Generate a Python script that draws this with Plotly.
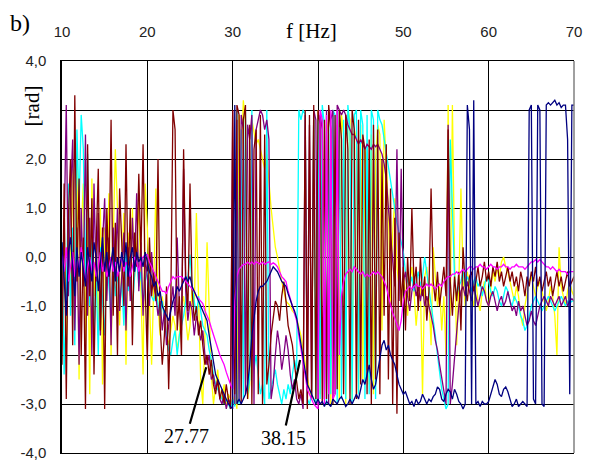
import plotly.graph_objects as go

# frequency grid: 10..70 Hz every 0.25 Hz
freq = [10 + 0.25 * i for i in range(241)]

# phase [rad], rows = one Hz (4 samples), last single value = 70 Hz
navy = [
 0.3,-0.5,-1.2,0.1, 0.4,-0.2,-0.8,0.2, -0.4,0.1,-0.3,-0.6, 0.2,-0.1,-0.5,0.3,
 0.0,-0.7,-0.2,0.4, -0.3,0.1,-0.4,-0.1, 0.2,-0.5,0.0,-0.3, 0.1,-0.2,0.3,-0.4,
 0.0,0.2,-0.3,0.1, -0.1,0.0,-0.2,0.1, -0.1,-0.3,-0.4,-0.6, -0.5,-0.8,-0.7,-1.0,
 -1.1,-1.2,-1.3,-1.1, -0.9,-0.8,-0.6,-0.7, -0.6,-0.5,-0.4,-0.5, -0.4,-0.6,-0.7,-0.8,
 -0.9,-1.0,-1.1,-1.2, -1.3,-1.6,-1.9,-2.2, -2.4,-2.5,-2.6,-2.7, -2.8,-2.9,-3.0,-3.05,
 -3.1,3.1,-3.0,-2.9, -3.0,-2.9,-2.8,-2.6, -2.2,-1.6,-1.2,-0.9, -0.7,-0.6,-0.6,-0.55,
 -0.5,-0.4,-0.3,-0.2, -0.25,-0.3,-0.4,-0.5, -0.55,-0.6,-0.75,-0.9, -1.0,-1.1,-1.25,-1.5,
 -1.8,-2.1,-2.4,-2.6, -2.7,-2.8,-2.9,-3.0, -2.9,-3.0,-2.95,-3.05, -2.95,-3.0,-3.05,-2.9,
 -2.95,-3.0,-2.9,-2.85, -2.95,-3.05,-3.0,-2.9, -3.0,-2.9,-2.8,-2.9, -2.7,-2.5,-2.6,-2.4,
 -2.2,-2.5,-2.7,-2.6, -2.3,-2.0,-1.8,-1.7, -1.9,-1.8,-2.0,-2.1, -2.2,-2.4,-2.6,-2.7,
 -2.8,-2.75,-2.9,-3.0, -2.95,-3.05,-2.9,-3.0, -2.95,-2.8,-2.9,-3.0, -2.9,-2.95,-2.85,-2.8,
 -2.65,-2.7,-2.9,-2.95, -2.8,-2.7,-2.75,-2.9, -2.7,-2.8,-2.95,-3.0, -3.1,-3.0,3.1,2.6,
 -3.0,3.2,-3.0,-2.95, -3.05,-2.95,-3.0,-3.0, -2.95,-2.8,-2.6,-2.5, -2.6,-2.8,-2.85,-2.7,
 -2.65,-2.75,-2.9,-3.05, -3.0,-2.9,-3.05,-3.0, -2.95,-3.0,-3.05,3.0, 3.1,-2.9,-3.0,3.1,
 3.0,-3.0,-3.05,3.1, 3.15,3.1,3.15,3.2, 3.1,3.15,3.05,3.1, 3.1,2.4,-2.8,3.1,
 3.1]

magenta = [
 0.1,-0.3,0.2,-0.5, -0.2,0.1,-0.4,0.0, -0.3,0.2,-0.1,-0.5, -0.2,0.0,-0.3,-0.1,
 -0.4,-0.2,0.1,-0.3, -0.1,-0.4,-0.2,0.0, -0.3,-0.1,-0.4,-0.2, 0.0,-0.3,-0.1,-0.2,
 -0.4,-0.2,0.0,-0.1, -0.3,-0.1,0.0,0.05, 0.05,-0.1,-0.2,-0.3, -0.4,-0.5,-0.6,-0.7,
 -0.7,-0.75,-0.6,-0.5, -0.4,-0.45,-0.4,-0.4, -0.4,-0.45,-0.5,-0.55, -0.6,-0.65,-0.7,-0.8,
 -0.85,-0.9,-0.95,-1.1, -1.2,-1.3,-1.45,-1.6, -1.75,-1.9,-2.0,-2.1, -2.2,-2.35,-2.5,-2.6,
 -2.7,-0.9,-0.4,-0.25, -0.2,-0.15,-0.15,-0.1, -0.15,-0.1,-0.15,-0.1, -0.12,-0.15,-0.1,-0.15,
 -0.12,-0.1,-0.15,-0.12, -0.15,-0.2,-0.3,-0.4, -0.45,-0.5,-0.7,-0.85, -0.95,-1.1,-1.3,-1.6,
 -1.9,-2.2,-2.5,-2.7, -2.8,-2.9,-3.0,-3.05, -3.1,3.0,2.8,-3.0, 2.9,-2.8,3.0,-2.9,
 -2.8,3.0,-2.0,-0.8, -0.5,-0.35,-0.3,-0.25, -0.3,-0.2,-0.25,-0.3, -0.35,-0.3,-0.4,-0.35,
 -0.4,-0.35,-0.3,-0.35, -0.3,-0.35,-0.4,-0.5, -0.6,-0.8,-1.0,-1.15, -1.25,-1.4,-1.5,-1.3,
 -0.9,-0.7,-0.65,-0.6, -0.65,-0.6,-0.55,-0.6, -0.6,-0.65,-0.6,-0.55, -0.6,-0.55,-0.6,-0.65,
 -0.6,-0.55,-0.6,-0.5, -0.45,-0.4,-0.4,-0.35, -0.35,-0.3,-0.35,-0.3, -0.25,-0.3,-0.25,-0.2,
 -0.2,-0.25,-0.2,-0.2, -0.15,-0.2,-0.2,-0.25, -0.2,-0.15,-0.2,-0.2, -0.25,-0.2,-0.2,-0.15,
 -0.2,-0.2,-0.25,-0.2, -0.2,-0.15,-0.2,-0.2, -0.2,-0.25,-0.2,-0.15, -0.1,-0.1,-0.05,-0.1,
 -0.05,-0.1,-0.15,-0.2, -0.2,-0.25,-0.2,-0.25, -0.3,-0.25,-0.3,-0.3, -0.3,-0.35,-0.3,-0.3,
 -0.3]

yellow = [
 -1.5,0.8,-2.0,1.2, -0.5,1.8,-1.0,2.0, -2.5,0.5,1.5,-1.8, 0.8,-2.8,1.6,-0.8,
 0.4,-1.6,1.0,-2.6, 0.6,-0.6,1.3,-2.0, 0.3,2.2,1.0,-1.4, -0.2,0.9,-2.2,0.5,
 -0.8,1.0,-0.4,0.2, 1.1,-0.5,-2.4,1.5, 0.6,-0.9,-2.2,-0.6, 1.4,-1.0,-1.6,-0.8,
 -1.2,-1.6,-1.8,-1.5, -1.2,-1.4,-1.9,-1.6, -1.0,-0.8,-1.3,-1.7, -1.4,-0.6,-1.0,0.9,
 -0.8,-2.5,-3.0,-1.6, 0.3,-1.2,-2.4,-3.0, -2.6,-2.3,-2.8,-2.9, -2.6,-3.05,-2.8,-2.9,
 -3.0,-2.8,-3.1,2.9, 2.0,3.2,2.7,-2.9, -2.6,2.8,2.5,2.3, 2.4,2.2,2.0,1.8,
 2.1,1.5,1.0,0.6, 0.2,0.0,-0.3,-0.5, -0.7,-0.9,-0.95,-1.0, -1.1,-1.15,-1.25,-1.4,
 -1.6,-1.9,-2.2,-2.5, -2.7,-2.9,2.9,-3.0, 3.0,-2.8,2.6,-2.9, 2.8,2.5,-3.0,3.0,
 -2.7,2.7,-2.9,2.9, 2.5,-3.0,3.0,2.8, -2.9,2.6,2.4,-2.8, 2.7,-2.5,2.2,1.8,
 -2.6,2.5,-2.8,2.0, 2.7,2.5,-1.5,2.8, 2.0,1.0,-1.0,0.5, 1.2,-0.2,-0.6,-1.0,
 -0.3,-0.8,-1.2,-0.5, -0.2,-0.7,-1.4,-0.9, -0.6,-2.8,-0.4,-0.2, -0.8,-1.8,0.2,-0.4,
 -1.0,-0.6,-1.5,-0.8, -2.0,3.1,-1.2,3.1, 0.0,-1.8,-0.6,1.4, -0.4,-1.0,-0.3,-0.6,
 -0.8,-1.0,-0.5,-0.9, -1.1,-0.7,-0.5,-0.9, -1.0,-0.6,-0.3,-0.5, -0.2,-0.4,-0.1,0.0,
 -0.2,-0.3,-0.5,-0.7, -0.9,-0.6,-0.8,-1.2, -1.4,-1.0,-0.7,-0.5, -0.4,-0.6,-0.8,-0.6,
 -0.5,-0.7,-0.9,-1.1, -0.9,-0.6,-0.8,-1.2, -2.0,0.2,-0.6,-0.8, -1.0,-0.7,-0.5,-0.7,
 -0.8]

cyan = [
 0.3,-2.4,-0.8,1.5, -1.2,0.6,-1.8,2.6, 1.0,2.9,2.2,-0.5, 2.1,-1.0,0.4,-1.6,
 -0.3,-2.0,0.2,-0.9, -1.6,0.1,-0.6,-1.2, 0.0,-0.8,-0.3,-1.0, -0.5,-1.4,0.1,-0.7,
 -0.2,-1.1,-0.4,0.0, -0.6,-0.3,-1.0,-0.5, -0.3,-0.5,-0.8,-0.9, -0.7,-1.0,-1.2,-0.9,
 -1.3,-1.6,-1.9,-2.0, -1.7,-1.5,-2.0,-1.6, -1.4,-1.2,-0.9,-0.4, 0.05,-0.6,-0.9,-1.2,
 -0.8,-1.1,-1.4,-1.5, -1.6,-1.9,-2.1,-2.4, -2.6,-2.7,-2.8,-2.9, -3.0,-2.9,-3.0,-3.1,
 -2.9,-3.05,3.0,-3.0, 2.6,-2.9,3.0,-2.8, -2.5,3.0,-2.3,-2.0, -2.4,-2.8,-2.6,-3.0,
 3.0,-2.9,-2.7,-2.5, -2.3,-2.6,-2.8,-3.0, -2.7,-2.9,-2.6,-2.8, -2.4,-2.1,-2.3,3.0,
 2.8,3.0,2.9,-2.9, -3.0,-2.8,3.0,-3.0, 2.9,-2.9,3.1,2.7, -3.0,2.8,-2.8,3.0,
 2.9,-3.0,3.0,-2.9, 2.8,-2.9,3.1,2.6, -3.0,2.9,3.0,-2.8, 3.0,2.7,-2.9,2.9,
 -2.8,3.0,2.8,-2.9, 3.0,2.8,2.7,2.4, 2.1,1.8,1.5,1.2, 1.0,0.7,0.5,0.3,
 0.1,-0.3,-0.5,-0.6, -0.4,-0.7,-0.5,-0.3, -0.6,-0.4,0.0,-0.3, -0.6,-0.9,-1.2,-1.6,
 -2.0,-2.4,-2.7,-2.9, -3.1,-3.0,2.4,1.0, -0.4,-0.8,-0.6,-0.5, -0.3,-0.6,-0.4,-0.5,
 -0.7,-0.5,-0.4,-0.6, -0.5,-0.8,-0.6,-0.4, -0.5,-0.7,-0.8,-0.6, -0.7,-0.9,-1.0,-0.8,
 -0.6,-0.7,-0.9,-1.0, -0.8,-0.9,-1.0,-1.2, -1.3,-1.5,-1.4,-1.2, -1.0,-0.9,-0.8,-0.9,
 -1.0,-1.1,-1.0,-0.9, -0.8,-0.9,-1.0,-1.1, -1.0,-0.9,-0.8,-0.9, -1.0,-0.9,-0.95,-0.9,
 -0.9]

maroon = [
 -2.2,1.5,-2.9,0.8, 2.0,-1.8,3.3,-0.5, 1.6,-2.0,0.4,-3.1, 2.3,-0.8,1.2,-2.4,
 0.2,1.8,-1.5,0.6, -3.1,1.0,-0.4,2.8, -1.2,0.7,-2.0,1.4, 0.3,-1.0,2.3,-0.6,
 1.0,-1.8,0.5,-0.2, 1.7,0.0,2.3,-0.6, -2.1,0.4,-0.8,-0.3, -0.9,2.0,-1.4,-2.2,
 -1.6,-0.6,-2.7,-0.9, 3.0,2.6,-1.5,-0.8, -2.0,2.2,-0.4,-1.1, 1.5,-0.7,-1.3,-1.0,
 -1.6,-1.3,-1.8,-2.2, -2.0,-2.4,-2.1,-2.6, -2.8,-2.5,-2.9,-2.7, -3.0,-2.6,-2.9,-3.1,
 3.0,-2.8,3.1,2.9, -3.0,2.8,3.1,-2.9, 2.7,-3.0,2.2,2.6, -2.8,2.9,-3.0,2.5,
 -2.6,-2.2,-1.6,-1.2, -0.9,-1.0,-1.3,-0.8, -0.5,-0.9,-1.4,-1.6, -1.8,-2.2,-2.6,-2.9,
 -2.7,-3.0,3.0,-3.1, 2.9,-2.8,3.1,-2.9, 3.0,2.7,-3.0,2.8, -2.9,3.1,2.6,-3.0,
 2.9,-2.7,3.0,2.4, -2.8,2.9,2.2,-3.0, 3.0,2.6,-2.9,2.8, -2.6,2.5,2.2,-2.8,
 2.4,-3.0,2.7,-2.5, 2.6,-2.8,2.0,-1.2, 2.3,-2.5,1.4,-3.0, 0.8,-3.2,0.5,-1.0,
 -0.2,-1.5,0.0,-0.9, 1.0,-0.6,-0.2,-1.1, 0.0,-0.8,-0.4,-1.3, -0.7,1.4,-0.5,-0.9,
 -0.3,-1.0,-0.6,-0.2, -0.8,2.6,-0.5,-1.2, -0.4,-0.9,-0.3,-1.5, 0.2,-0.6,-0.9,-0.4,
 -0.3,-0.7,-0.5,-0.2, -0.6,-0.4,-0.1,-0.5, -0.3,-0.6,-0.2,-0.4, -0.1,-0.5,-0.3,-0.6,
 -0.4,-0.2,-0.5,-0.3, -0.6,-0.4,-0.7,-0.3, -0.5,-0.8,-0.4,-0.6, -0.3,-0.5,-0.2,-0.6,
 -0.4,-0.7,-0.5,-0.3, -0.6,-0.4,-0.8,-0.5, -0.3,-0.6,-0.4,-0.7, -0.5,-0.3,-0.6,-0.5,
 -0.4]

purple = [
 -1.0,0.5,3.1,-0.8, 1.2,2.4,-1.5,0.6, -2.2,1.0,-0.6,2.5, -1.2,0.8,-2.0,1.5,
 -0.5,0.9,-1.6,0.3, 1.2,-0.9,0.4,-1.8, 0.6,-0.3,1.0,-1.1, -0.4,0.5,-1.5,0.2,
 -0.9,0.8,-0.3,1.3, -0.7,0.3,-1.2,0.0, -0.4,-1.0,0.1,-0.6, -0.8,-1.2,-0.9,-1.5,
 -1.1,-1.8,-1.4,-1.0, -0.6,-1.2,0.4,-1.0, -1.5,1.8,-0.7,-1.3, -0.9,-1.1,-1.6,-1.2,
 -1.4,-1.7,-1.5,-2.0, -2.2,-2.0,-2.5,-2.4, -2.7,-2.5,-2.9,-3.0, -2.8,-3.1,-2.9,-3.0,
 3.0,-3.0,2.8,-2.9, 2.9,2.6,-2.8,2.7, 2.4,2.9,-3.0,2.6, 2.8,3.0,2.9,2.6,
 2.8,2.4,-2.9,-2.6, -2.0,-1.5,-1.8,-2.3, -2.0,-1.6,-1.9,-2.4, -2.7,-2.5,-2.9,-3.0,
 -2.8,-3.1,2.9,-3.0, 2.7,-2.9,3.0,2.8, -3.0,2.9,2.6,-2.9, 3.0,-3.0,2.8,3.0,
 -2.8,3.1,3.0,2.9, 3.0,2.9,2.7,2.6, 2.5,2.5,2.4,2.3, 2.4,2.3,2.2,2.3,
 2.25,2.2,2.3,2.25, 2.3,2.2,2.1,1.9, 1.6,1.0,0.4,-0.2, -0.6,2.2,-0.9,1.8,
 -0.5,-0.3,-0.8,-1.1, -0.7,-0.5,-0.8,-0.6, -0.9,-0.6,-1.0,-0.8, -1.0,-1.2,-1.4,-1.7,
 -1.9,-2.2,-2.5,-2.8, -3.0,2.7,-3.0,-2.6, -2.0,-1.5,-1.0,-0.7, -0.6,-0.8,-0.5,-0.7,
 -0.9,-0.6,-0.8,-1.0, -0.8,-0.6,-0.7,-0.9, -1.0,-0.8,-0.7,-0.9, -1.1,-0.9,-0.8,-1.0,
 -0.9,-0.7,-0.9,-1.1, -1.0,-1.2,-0.9,-1.1, -1.0,-1.2,-1.4,-1.3, -1.1,-1.3,-1.4,-1.2,
 -1.0,-0.9,-0.8,-0.9, -1.0,-0.8,-0.9,-1.0, -0.9,-0.8,-1.0,-0.9, -0.8,-1.0,-0.9,-0.85,
 -0.9]

x_ticks = [10, 20, 30, 40, 50, 60, 70]
x_labels = ["10", "20", "30", "", "50", "60", "70"]
y_ticks = [4, 3, 2, 1, 0, -1, -2, -3, -4]
y_labels = ["4,0", "", "2,0", "1,0", "0,0", "-1,0", "-2,0", "-3,0", "-4,0"]
marks = [("27.77", 26.9, -2.25, -20, 69), ("38.15", 37.9, -2.1, -17, 78)]

series = [
    ("yellow", yellow, "#FFFF00"),
    ("cyan", cyan, "#00FFFF"),
    ("purple", purple, "#800080"),
    ("maroon", maroon, "#800000"),
    ("magenta", magenta, "#FF00FF"),
    ("navy", navy, "#000080"),
]

fig = go.Figure()
for name, vals, col in series:
    assert len(vals) == len(freq), (name, len(vals))
    fig.add_trace(go.Scatter(x=freq, y=vals, mode="lines", name=name,
                             line=dict(color=col, width=1.3), showlegend=False,
                             hoverinfo="skip"))

serif = "Liberation Serif, Times New Roman, serif"
sans = "Liberation Sans, Arial, sans-serif"

for txt, fx, fy, dx, dy in marks:
    fig.add_annotation(x=fx, y=fy, xref="x", yref="y", text=txt, showarrow=True,
                       arrowhead=0, arrowwidth=2.2, arrowcolor="black",
                       ax=dx, ay=dy, font=dict(family=serif, size=20, color="black"))

fig.add_annotation(text="b)", xref="x domain", yref="y domain", x=-0.106, y=1.097,
                   showarrow=False, xanchor="left", yanchor="middle",
                   font=dict(family=serif, size=24, color="black"))
fig.add_annotation(text="f [Hz]", xref="x domain", yref="y domain", x=0.488, y=1.077,
                   showarrow=False, xanchor="center", yanchor="middle",
                   font=dict(family=serif, size=21, color="black"))
fig.add_annotation(text="[rad]", xref="x domain", yref="y domain", x=-0.058, y=0.885,
                   showarrow=False, textangle=-90, xanchor="center", yanchor="middle",
                   font=dict(family=serif, size=21, color="black"))

# right frame in grey
fig.add_shape(type="line", xref="x domain", yref="y domain", x0=1, x1=1, y0=0, y1=1,
              line=dict(color="#808080", width=1.5))

fig.update_layout(
    width=594, height=473,
    margin=dict(l=62, r=14, t=61, b=12),
    paper_bgcolor="white", plot_bgcolor="white",
    xaxis=dict(range=[10, 70], side="top", tickvals=x_ticks, ticktext=x_labels,
               showgrid=True, gridcolor="black", gridwidth=1, zeroline=False, ticks="",
               ticklabelstandoff=17,
               tickfont=dict(family=sans, size=15, color="#222222"),
               showline=True, linecolor="black", linewidth=1.2, mirror=True),
    yaxis=dict(range=[-4, 4], tickvals=y_ticks, ticktext=y_labels, showgrid=True,
               gridcolor="black", gridwidth=1, zeroline=False, ticks="",
               ticklabelstandoff=11,
               tickfont=dict(family=sans, size=15, color="#222222"),
               showline=True, linecolor="black", linewidth=1.5, mirror=False),
)

fig.write_html("out.html")
